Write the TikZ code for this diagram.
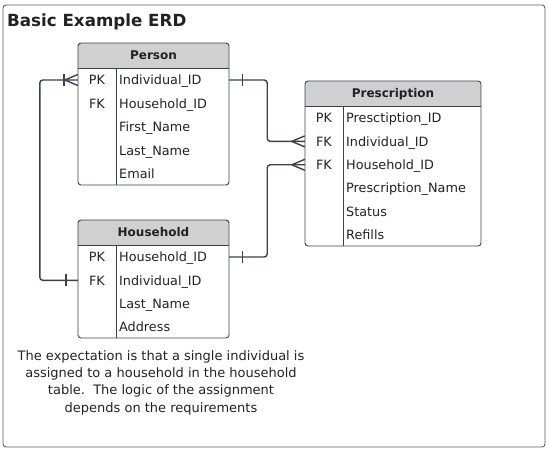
\documentclass[tikz,border=0pt]{standalone}
\usepackage{fontspec}
\setmainfont{DejaVu Sans}
\definecolor{edge}{HTML}{3A414C}
\definecolor{headgray}{HTML}{D0D0D0}
\definecolor{ink}{HTML}{222222}

\begin{document}
\begin{tikzpicture}[x=1pt,y=-1pt]
    \tikzstyle{tab}=[draw=edge, line width=0.9pt, rounded corners=3pt]
    \tikzstyle{head}=[font=\bfseries\fontsize{12}{14}\selectfont, text=ink, inner sep=0pt, text height=8.8pt, text depth=0pt]
    \tikzstyle{key}=[font=\fontsize{12.8}{14}\selectfont, text=ink, inner sep=0pt, text height=9.4pt, text depth=0pt]
    \tikzstyle{fld}=[key, anchor=west]
    \tikzstyle{row}=[inner sep=0pt, minimum height=23pt]
    \tikzstyle{link}=[draw=edge, line width=1.4pt, rounded corners=3pt]
    \tikzstyle{tick}=[draw=edge, line width=1.4pt]

    \useasboundingbox (0,0) rectangle (548,449);
    \draw[draw=edge!85, line width=0.9pt, rounded corners=3pt] (3,5) rectangle (545,447);
    \node[anchor=base west, inner sep=0pt, font=\bfseries\fontsize{16.7}{20}\selectfont, text=ink] (title) at (7,27) {Basic Example ERD};

    % Person table
    \begin{scope}
        \clip[rounded corners=3pt] (78,43) rectangle (229,185);
        \fill[headgray] (78,43) rectangle (229,68);
    \end{scope}
    \draw[tab] (78,43) rectangle (229,185);
    \draw[tick, line width=0.9pt] (78,68) -- (229,68) (116,68) -- (116,185);
    \node[head] (person) at (153.5,55.5) {Person};
    \node[row, minimum width=151pt] (per1) at (153.5,80) {};
    \node[key] (per1k) at (97,80) {PK};
    \node[fld] (per1f) at (119,80) {Individual\_ID};
    \node[key] (per2k) at (97,103.5) {FK};
    \node[fld] (per2f) at (119,103.5) {Household\_ID};
    \node[fld] (per3f) at (119,127) {First\_Name};
    \node[fld] (per4f) at (119,150.5) {Last\_Name};
    \node[fld] (per5f) at (119,174) {Email};

    % Prescription table
    \begin{scope}
        \clip[rounded corners=3pt] (305,81) rectangle (481,246);
        \fill[headgray] (305,81) rectangle (481,106);
    \end{scope}
    \draw[tab] (305,81) rectangle (481,246);
    \draw[tick, line width=0.9pt] (305,106) -- (481,106) (343,106) -- (343,246);
    \node[head] (prescription) at (393,93.5) {Prescription};
    \node[row, minimum width=176pt] (pre2) at (393,141.4) {};
    \node[row, minimum width=176pt] (pre3) at (393,164.8) {};
    \node[key] (pre1k) at (324,118) {PK};
    \node[fld] (pre1f) at (346,118) {Presctiption\_ID};
    \node[key] (pre2k) at (324,141.4) {FK};
    \node[fld] (pre2f) at (346,141.4) {Individual\_ID};
    \node[key] (pre3k) at (324,164.8) {FK};
    \node[fld] (pre3f) at (346,164.8) {Household\_ID};
    \node[fld] (pre4f) at (346,188.2) {Prescription\_Name};
    \node[fld] (pre5f) at (346,211.6) {Status};
    \node[fld] (pre6f) at (346,235) {Refills};

    % Household table
    \begin{scope}
        \clip[rounded corners=3pt] (78,220) rectangle (229,338);
        \fill[headgray] (78,220) rectangle (229,245);
    \end{scope}
    \draw[tab] (78,220) rectangle (229,338);
    \draw[tick, line width=0.9pt] (78,245) -- (229,245) (116,245) -- (116,338);
    \node[head] (household) at (153.5,232.5) {Household};
    \node[row, minimum width=151pt] (hh1) at (153.5,257) {};
    \node[row, minimum width=151pt] (hh2) at (153.5,280.3) {};
    \node[key] (hh1k) at (97,257) {PK};
    \node[fld] (hh1f) at (119,257) {Household\_ID};
    \node[key] (hh2k) at (97,280.3) {FK};
    \node[fld] (hh2f) at (119,280.3) {Individual\_ID};
    \node[fld] (hh3f) at (119,303.6) {Last\_Name};
    \node[fld] (hh4f) at (119,327) {Address};

    % relationships
    \draw[link] (per1.east) -- ++(38,0) |- (pre2.west);
    \draw[tick] (per1.east) ++(13,-6) -- ++(0,12);
    \draw[tick] (pre2.west) ++(-13,0) -- ++(13,-5.5) ++(-13,5.5) -- ++(13,5.5);

    \draw[link] (hh1.east) -- ++(38,0) |- (pre3.west);
    \draw[tick] (hh1.east) ++(13,-6) -- ++(0,12);
    \draw[tick] (pre3.west) ++(-13,0) -- ++(13,-5.5) ++(-13,5.5) -- ++(13,5.5);

    \draw[link] (per1.west) -- ++(-38,0) |- (hh2.west);
    \draw[tick] (per1.west) ++(-14,-6) -- ++(0,12);
    \draw[tick] (per1.west) ++(-13,0) -- ++(13,-5.5) ++(-13,5.5) -- ++(13,5.5);
    \draw[tick] (hh2.west) ++(-12,-6) -- ++(0,12);

    \node[align=center, text=ink, font=\fontsize{13}{17.3}\selectfont] (note) at (161,382.5) {The expectation is that a single individual is\\assigned to a household in the household\\table.\ \ The logic of the assignment\\depends on the requirements};
\end{tikzpicture}
\end{document}
